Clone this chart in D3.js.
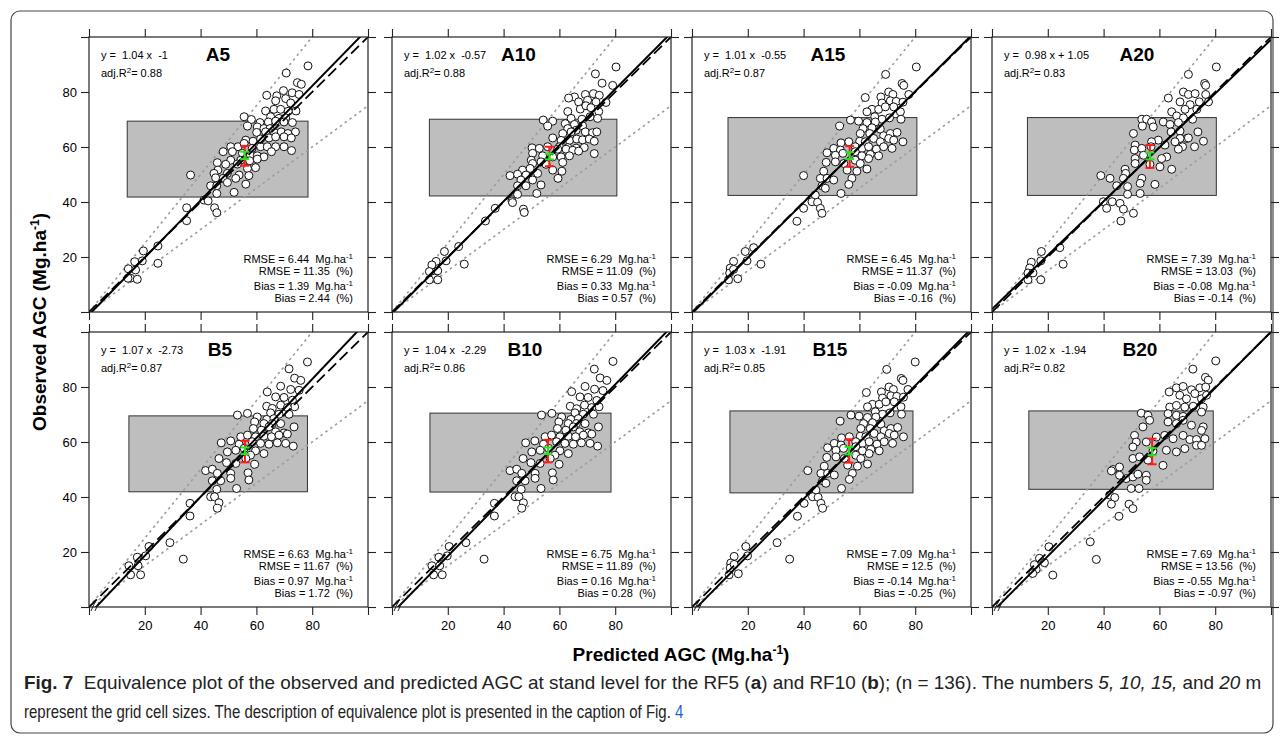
<!DOCTYPE html>
<html>
<head>
<meta charset="utf-8">
<script src="https://cdn.jsdelivr.net/npm/d3@7"></script>
<style>
body { margin: 0; background: #fff; }
text { font-family: "Liberation Sans", Arial, sans-serif; }
</style>
</head>
<body>
<script>
var width = 1284, height = 738;

// panel texts
var panelNames = ["A5", "A10", "A15", "A20", "B5", "B10", "B15", "B20"];
var eqText = ["y =  1.04 x  -1", "y =  1.02 x  -0.57", "y =  1.01 x  -0.55", "y =  0.98 x + 1.05",
              "y =  1.07 x  -2.73", "y =  1.04 x  -2.29", "y =  1.03 x  -1.91", "y =  1.02 x  -1.94"];
var slope = [1.04, 1.02, 1.01, 0.98, 1.07, 1.04, 1.03, 1.02];
var intercept = [-1, -0.57, -0.55, 1.05, -2.73, -2.29, -1.91, -1.94];
var adjR2 = ["0.88", "0.88", "0.87", "0.83", "0.87", "0.86", "0.85", "0.82"];
var rmse = ["6.44", "6.29", "6.45", "7.39", "6.63", "6.75", "7.09", "7.69"];
var rmsePct = ["11.35", "11.09", "11.37", "13.03", "11.67", "11.89", "12.5", "13.56"];
var bias = ["1.39", "0.33", "-0.09", "-0.08", "0.97", "0.16", "-0.14", "-0.55"];
var biasPct = ["2.44", "0.57", "-0.16", "-0.14", "1.72", "0.28", "-0.25", "-0.97"];

// equivalence region [xmin, xmax, ymin, ymax]
var eqRegion = [[13.7, 78.5, 41.8, 69.4], [13.4, 80.6, 42.2, 70.1], [12.9, 80.6, 42.4, 70.7], [12.7, 80.4, 42.4, 70.7],
                [14.3, 78.3, 41.9, 69.5], [13.6, 78.5, 41.8, 70.5], [13.6, 79.2, 41.5, 71.3], [13.2, 79.3, 42.8, 71.3]];
// mean bars [x, red lo, red hi, green lo, green hi]
var meanBars = [[55.8, 53.2, 60.4, 55.6, 58.3], [56.4, 53.0, 60.1, 55.5, 57.6], [56.5, 52.8, 60.3, 55.6, 58.1], [56.6, 52.4, 60.7, 55.5, 58.0],
                [55.9, 52.6, 60.4, 55.6, 58.0], [55.9, 52.6, 60.8, 55.6, 58.0], [56.3, 52.5, 61.0, 55.5, 58.2], [57.4, 51.9, 61.2, 55.2, 57.8]];

var tickValues = [0, 20, 40, 60, 80, 100];
var tickLabels = [20, 40, 60, 80];

// observed (y) vs predicted (x)
var ptsA5 = [[78.5,89.5],[70.7,86.9],[74.7,83.4],[76.1,82.8],[63.7,78.8],[67.3,78.6],[69.7,80.5],[72.8,79.7],[75.3,79.1],[66.9,76.8],[70.5,77.6],[72.3,76.0],[74.2,73.1],[63.3,73.1],[66.3,73.7],[68.7,73.7],[71.4,73.0],[65.1,71.0],[68.1,70.4],[70.5,70.6],[55.6,71.0],[58.2,70.0],[61.3,68.9],[64.3,69.1],[66.9,69.4],[69.9,69.1],[72.9,68.9],[56.8,67.6],[60.3,67.3],[62.7,66.7],[64.9,66.7],[60.1,65.3],[63.3,65.5],[66.5,65.2],[68.9,65.5],[74.0,65.5],[71.3,64.9],[56.2,62.5],[58.8,62.1],[61.5,62.9],[64.5,63.3],[66.9,63.7],[69.9,63.7],[72.5,63.3],[50.8,60.1],[53.4,60.1],[55.6,61.3],[58.5,59.5],[61.5,60.1],[63.9,60.1],[66.9,60.1],[69.9,60.1],[72.6,58.7],[48.1,58.3],[51.4,58.3],[55.0,57.7],[57.9,57.0],[60.3,56.8],[62.7,56.4],[65.4,58.3],[50.8,55.2],[54.4,55.2],[57.6,55.0],[60.3,55.6],[46.0,54.3],[49.0,53.7],[53.2,53.8],[56.8,52.2],[59.7,52.5],[46.2,51.6],[36.4,49.8],[44.8,50.4],[49.6,50.4],[53.8,49.8],[57.3,49.6],[45.4,48.8],[48.1,48.6],[49.6,47.1],[52.6,48.6],[56.2,46.5],[43.6,45.9],[45.8,45.9],[52.0,43.5],[45.8,43.1],[41.2,40.7],[42.7,40.4],[45.0,37.9],[45.8,36.1],[35.0,37.9],[35.0,33.2],[24.7,24.0],[19.5,22.2],[16.4,18.3],[19.1,18.6],[24.7,17.7],[14.1,15.7],[16.7,15.3],[14.9,12.3],[17.3,11.9],[14.0,12.3]];

var ptsA10 = [[80.3,89.1],[72.9,86.6],[75.3,83.2],[79.1,82.4],[65.4,78.2],[63.3,77.8],[69.3,79.1],[72.2,79.4],[74.3,78.8],[76.7,76.2],[66.9,76.4],[70.1,77.0],[73.1,76.4],[63.0,72.9],[67.5,73.8],[69.5,75.0],[71.3,74.3],[74.1,72.9],[64.2,70.4],[68.1,70.1],[71.0,71.0],[73.7,70.4],[54.2,69.8],[57.6,69.4],[55.8,67.6],[62.1,68.5],[65.4,68.2],[68.3,67.7],[63.0,66.7],[66.0,66.1],[61.2,64.9],[64.2,65.5],[69.3,65.5],[71.9,65.2],[73.4,65.5],[57.6,63.3],[60.6,62.4],[63.6,62.4],[66.2,62.9],[68.3,62.6],[70.7,62.9],[72.5,62.1],[60.0,60.1],[63.0,59.8],[66.0,59.6],[68.9,59.8],[72.5,57.6],[50.2,59.7],[52.8,59.5],[55.8,60.1],[59.4,59.2],[62.4,59.2],[64.8,58.8],[66.9,58.5],[50.4,57.7],[54.0,56.8],[57.6,56.4],[60.6,56.4],[63.6,56.8],[49.9,55.2],[53.4,54.6],[50.4,54.0],[55.2,53.7],[61.2,54.4],[46.8,51.6],[49.5,52.2],[52.2,50.4],[57.6,51.6],[60.9,51.2],[42.3,49.6],[45.0,50.1],[48.0,49.8],[46.2,48.0],[50.4,48.0],[59.5,48.6],[45.0,45.9],[48.0,45.9],[53.4,46.2],[45.0,42.8],[51.9,43.1],[43.0,40.4],[43.2,39.8],[47.1,37.4],[47.4,36.2],[37.0,37.7],[33.5,33.1],[23.9,23.8],[18.8,22.0],[15.8,18.4],[19.4,18.6],[25.9,17.4],[14.3,17.1],[13.4,14.7],[16.4,15.0],[15.2,12.3],[13.4,11.7],[16.4,11.7]];

var ptsA15 = [[80.4,89.1],[69.4,86.4],[75.3,83.1],[75.9,82.4],[62.1,78.0],[67.7,78.2],[70.5,80.0],[72.0,79.1],[68.1,76.0],[71.1,76.8],[73.2,76.6],[75.6,76.3],[77.7,79.1],[64.5,73.7],[62.7,72.8],[66.9,73.7],[69.3,74.6],[72.3,74.6],[74.7,72.8],[65.5,71.0],[68.1,70.1],[70.8,70.6],[74.9,70.1],[56.8,69.8],[59.7,69.4],[62.7,68.9],[65.7,69.1],[52.9,67.6],[61.3,66.7],[64.5,67.0],[67.5,66.5],[60.3,64.9],[63.7,64.9],[68.7,64.1],[71.1,64.9],[73.5,65.3],[75.6,61.9],[53.4,61.5],[56.2,61.9],[60.1,62.1],[62.1,61.9],[65.1,63.1],[67.5,61.9],[70.5,63.1],[72.3,62.5],[50.8,59.5],[53.2,58.9],[58.5,60.1],[60.9,59.5],[63.3,60.1],[66.1,59.2],[68.7,60.1],[71.7,59.5],[48.4,57.9],[51.4,57.0],[54.1,57.7],[58.5,58.3],[60.9,56.8],[63.9,57.3],[66.9,56.8],[48.1,54.4],[51.4,54.6],[54.4,54.0],[58.5,55.2],[60.3,54.0],[63.3,55.8],[55.6,51.6],[59.1,51.2],[62.7,52.0],[47.2,51.2],[46.0,48.6],[48.4,48.6],[40.0,49.6],[50.8,48.0],[57.3,48.6],[46.6,45.9],[56.2,46.4],[47.8,45.0],[53.4,43.1],[44.2,42.5],[43.0,40.1],[45.0,39.9],[46.0,37.7],[46.6,35.9],[40.0,37.7],[37.6,33.0],[22.1,23.4],[19.1,22.0],[14.9,18.4],[19.7,18.6],[24.7,17.4],[13.7,16.0],[13.5,14.2],[16.4,12.1],[13.1,11.7],[14.9,15.5]];

var ptsA20 = [[80.4,89.1],[70.4,86.4],[76.2,83.1],[76.6,82.4],[63.2,77.8],[68.6,80.0],[70.4,79.1],[72.8,79.4],[67.4,76.4],[71.0,75.4],[74.3,76.4],[76.6,79.1],[77.6,76.4],[64.4,72.8],[69.2,73.7],[66.2,71.3],[68.6,70.6],[71.9,70.1],[73.4,73.7],[53.7,70.1],[55.4,70.1],[57.2,69.1],[53.9,67.6],[57.8,67.3],[61.4,69.1],[63.8,68.2],[66.8,68.9],[64.2,65.5],[67.4,65.8],[69.8,63.1],[73.8,65.5],[75.8,62.1],[50.7,64.9],[67.4,63.1],[70.4,63.3],[72.6,60.1],[68.3,60.1],[66.8,59.2],[65.6,61.9],[62.0,60.7],[59.6,62.5],[57.2,61.9],[57.0,60.1],[51.3,60.7],[51.0,58.9],[53.7,59.5],[54.3,57.0],[51.3,55.8],[51.3,54.0],[62.6,56.4],[60.8,55.8],[64.4,51.9],[60.2,52.8],[56.6,53.7],[53.7,48.6],[47.7,51.9],[47.9,50.4],[47.1,48.6],[39.0,49.6],[42.3,48.6],[44.7,45.9],[48.6,45.6],[53.1,46.8],[58.4,46.4],[48.6,42.8],[53.1,43.1],[39.9,40.1],[43.1,40.1],[45.9,39.5],[41.1,37.7],[47.1,37.4],[50.7,35.9],[46.2,33.1],[24.3,23.4],[17.7,22.0],[14.1,18.1],[17.5,18.6],[25.5,17.4],[13.5,16.0],[12.9,14.2],[14.7,14.2],[17.5,11.7],[12.9,11.7]];

var ptsB5 = [[78.3,89.1],[71.7,86.6],[73.7,83.2],[75.9,82.4],[63.9,78.2],[68.7,80.3],[72.3,79.1],[75.3,78.8],[66.9,76.4],[69.9,76.2],[72.9,75.2],[73.7,72.8],[63.7,73.0],[65.7,72.2],[68.7,73.4],[71.1,72.5],[65.1,70.6],[68.1,70.1],[71.7,70.1],[53.2,69.8],[56.8,70.4],[60.3,69.1],[63.7,68.2],[66.3,68.5],[59.4,67.3],[62.7,66.7],[65.7,66.7],[68.7,66.7],[58.9,64.9],[61.8,64.3],[64.5,65.5],[66.9,63.7],[69.9,63.3],[73.5,65.5],[54.4,61.9],[56.8,62.5],[59.7,61.9],[62.7,62.1],[65.4,61.9],[68.1,62.5],[71.1,62.9],[47.4,59.7],[50.8,60.4],[53.8,59.2],[58.5,60.1],[61.5,59.5],[64.5,59.2],[67.5,59.7],[70.5,59.5],[73.2,58.5],[49.6,56.4],[52.6,57.0],[55.6,57.7],[59.7,56.8],[62.7,55.8],[57.9,55.2],[46.6,54.0],[49.3,52.5],[52.6,52.2],[56.2,54.0],[59.4,51.9],[41.8,49.6],[44.2,50.1],[46.0,48.6],[50.8,48.6],[44.2,45.9],[47.2,45.9],[50.8,46.8],[57.0,48.8],[57.3,46.2],[45.8,42.8],[52.9,43.1],[43.6,40.1],[45.0,40.1],[46.6,37.9],[46.0,35.9],[36.2,37.7],[36.2,33.1],[29.0,23.4],[21.5,22.0],[17.3,18.1],[20.3,18.6],[33.8,17.4],[14.3,15.0],[17.6,15.0],[14.9,11.7],[18.5,11.7]];

var ptsB10 = [[79.2,89.3],[72.5,86.5],[74.6,83.3],[77.0,82.4],[64.4,78.3],[69.2,80.2],[72.6,79.2],[75.6,78.7],[67.4,76.4],[70.3,76.2],[73.4,75.1],[74.2,72.8],[63.9,73.0],[66.2,72.1],[69.0,73.4],[71.6,72.5],[65.6,70.6],[68.6,70.1],[72.2,70.1],[53.6,69.8],[57.3,70.4],[60.8,69.1],[64.1,68.2],[66.8,68.5],[59.8,67.3],[63.2,66.7],[66.1,66.7],[69.2,66.7],[59.3,64.9],[62.3,64.3],[65.0,65.5],[67.3,63.7],[70.4,63.3],[74.0,65.5],[54.9,61.9],[57.2,62.5],[60.2,61.9],[63.2,62.1],[65.8,61.9],[68.6,62.5],[71.6,62.9],[47.9,59.7],[51.2,60.4],[54.3,59.2],[59.0,60.1],[62.0,59.5],[65.0,59.2],[67.9,59.7],[71.0,59.5],[73.7,58.5],[50.1,56.4],[53.1,57.0],[56.1,57.7],[60.2,56.8],[63.2,55.8],[58.4,55.2],[47.0,54.0],[49.8,52.5],[53.1,52.2],[56.7,54.0],[59.9,51.9],[42.3,49.6],[44.7,50.1],[46.5,48.6],[51.3,48.6],[44.7,45.9],[47.7,45.9],[51.3,46.8],[57.5,48.8],[57.8,46.2],[46.3,42.8],[53.4,43.1],[44.1,40.1],[45.5,40.1],[47.1,37.9],[46.5,35.9],[36.7,37.7],[36.7,33.1],[26.5,23.4],[20.5,22.0],[16.8,18.1],[19.8,18.6],[33.0,17.4],[14.3,15.0],[17.1,15.0],[14.9,11.7],[18.0,11.7]];

var ptsB15 = [[80.0,89.1],[69.8,86.4],[75.0,83.1],[75.6,82.4],[62.5,78.0],[67.9,78.2],[70.6,80.0],[72.2,79.1],[68.3,76.0],[71.3,76.8],[73.4,76.6],[75.8,76.3],[77.4,79.1],[64.7,73.7],[62.9,72.8],[67.1,73.7],[69.5,74.6],[72.5,74.6],[74.9,72.8],[65.7,71.0],[68.3,70.1],[71.0,70.6],[75.1,70.1],[57.0,69.8],[59.9,69.4],[62.9,68.9],[65.9,69.1],[53.1,67.6],[61.5,66.7],[64.7,67.0],[67.7,66.5],[60.5,64.9],[63.9,64.9],[68.9,64.1],[71.3,64.9],[73.7,65.3],[75.8,61.9],[53.6,61.5],[56.4,61.9],[60.3,62.1],[62.3,61.9],[65.3,63.1],[67.7,61.9],[70.7,63.1],[72.5,62.5],[51.0,59.5],[53.4,58.9],[58.7,60.1],[61.1,59.5],[63.5,60.1],[66.3,59.2],[68.9,60.1],[71.9,59.5],[48.6,57.9],[51.6,57.0],[54.3,57.7],[58.7,58.3],[61.1,56.8],[64.1,57.3],[67.1,56.8],[48.3,54.4],[51.6,54.6],[54.6,54.0],[58.7,55.2],[60.5,54.0],[63.5,55.8],[55.8,51.6],[59.3,51.2],[62.9,52.0],[47.4,51.2],[46.2,48.6],[48.6,48.6],[41.5,49.6],[51.0,48.0],[57.5,48.6],[46.8,45.9],[56.4,46.4],[48.0,45.0],[53.6,43.1],[44.4,42.5],[43.2,40.1],[45.2,39.9],[46.2,37.7],[46.8,35.9],[40.2,37.7],[37.8,33.0],[30.5,23.4],[19.3,22.0],[15.1,18.4],[19.9,18.6],[35.0,17.4],[13.9,16.0],[13.7,14.2],[16.6,12.1],[13.3,11.7],[15.1,15.5]];

var ptsB20 = [[80.2,89.5],[72.0,86.5],[76.5,83.5],[77.5,82.5],[63.5,78.2],[66.1,79.7],[68.5,80.2],[71.5,79.0],[74.5,79.7],[76.6,80.0],[72.7,77.6],[67.3,77.0],[69.7,75.7],[75.1,75.7],[76.9,77.0],[63.7,72.7],[66.1,73.3],[69.1,72.7],[72.1,73.0],[75.7,72.7],[53.5,70.5],[55.9,69.7],[56.5,67.9],[63.1,70.3],[66.1,69.7],[68.5,69.3],[63.1,67.3],[66.1,66.7],[68.5,67.9],[71.5,66.1],[75.1,70.9],[75.7,65.5],[54.1,65.5],[51.1,62.4],[51.7,60.0],[55.3,60.0],[58.9,61.8],[61.9,62.4],[64.9,61.2],[68.5,62.4],[70.9,60.9],[73.3,60.9],[76.3,61.2],[50.5,58.2],[57.7,56.7],[62.5,57.0],[66.1,56.4],[69.1,57.6],[73.3,58.8],[75.1,58.8],[75.1,64.2],[50.5,54.0],[52.9,54.6],[55.9,53.4],[61.3,51.5],[43.4,50.0],[45.7,50.9],[42.8,49.5],[45.7,47.9],[48.1,46.7],[50.5,47.3],[52.3,48.3],[55.3,47.9],[55.3,46.1],[49.9,43.1],[52.7,43.1],[42.2,40.7],[44.0,39.8],[42.8,37.4],[49.1,37.4],[50.5,35.8],[45.5,33.0],[35.2,23.7],[37.4,17.3],[20.4,21.9],[17.0,17.7],[18.8,16.1],[15.8,13.7],[14.6,12.2],[21.8,11.6],[15.2,15.4]];

var panelPoints = [ptsA5, ptsA10, ptsA15, ptsA20, ptsB5, ptsB10, ptsB15, ptsB20];

// layout
var colLeft = [89, 392, 692, 992], rowTop = [37, 332];
var pw = 279, ph = 275;
var titleCx = [129, 126.5, 136, 145, 131, 133, 138, 148];

// keep the wide spacing of the R labels
function pre(s) { return s.replace(/  /g, " \u00a0"); }

var svg = d3.select("body").append("svg")
    .attr("width", width)
    .attr("height", height);

// outer frame
svg.append("rect")
    .attr("x", 11).attr("y", 11)
    .attr("width", 1262).attr("height", 722)
    .attr("rx", 9)
    .attr("fill", "none")
    .attr("stroke", "#444")
    .attr("stroke-width", 1.2);

var defs = svg.append("defs");

panelNames.forEach(function(name, i) {
  var col = i % 4, row = Math.floor(i / 4);
  var x0 = colLeft[col], y0 = rowTop[row];
  var x = d3.scaleLinear().domain([0, 100]).range([x0, x0 + pw]);
  var y = d3.scaleLinear().domain([0, 100]).range([y0 + ph, y0]);
  var g = svg.append("g");

  defs.append("clipPath").attr("id", "clip" + i)
    .append("rect").attr("x", x0).attr("y", y0).attr("width", pw).attr("height", ph);

  var r = eqRegion[i];
  g.append("rect")
      .attr("x", x(r[0])).attr("y", y(r[3]))
      .attr("width", x(r[1]) - x(r[0])).attr("height", y(r[2]) - y(r[3]))
      .attr("fill", "#bebebe")
      .attr("stroke", "#333")
      .attr("stroke-width", 1);

  var lines = g.append("g").attr("clip-path", "url(#clip" + i + ")");
  // +-25% lines
  [1.25, 0.75].forEach(function(k) {
    lines.append("line")
        .attr("x1", x(0)).attr("y1", y(0))
        .attr("x2", x(100)).attr("y2", y(100 * k))
        .attr("stroke", "#9c9c9c")
        .attr("stroke-width", 1.6)
        .attr("stroke-dasharray", "2.5,3.5");
  });

  var pts = panelPoints[i];
  g.append("g").selectAll("circle")
    .data(pts)
    .enter().append("circle")
      .attr("cx", function(d) { return x(d[0]); })
      .attr("cy", function(d) { return y(d[1]); })
      .attr("r", 4)
      .attr("fill", "#fff")
      .attr("stroke", "#111")
      .attr("stroke-width", 1);

  var top = g.append("g").attr("clip-path", "url(#clip" + i + ")");
  // 1:1 line
  top.append("line")
      .attr("x1", x(0)).attr("y1", y(0))
      .attr("x2", x(100)).attr("y2", y(100))
      .attr("stroke", "#000")
      .attr("stroke-width", 1.8)
      .attr("stroke-dasharray", "11,5");
  // fitted line
  top.append("line")
      .attr("x1", x(0)).attr("y1", y(intercept[i]))
      .attr("x2", x(100)).attr("y2", y(slope[i] * 100 + intercept[i]))
      .attr("stroke", "#000")
      .attr("stroke-width", 2);

  // mean bars
  var mb = meanBars[i];
  [[mb[1], mb[2], "#ff1a1a"], [mb[3], mb[4], "#1ee81e"]].forEach(function(b) {
    var bar = g.append("g").attr("stroke", b[2]).attr("stroke-width", 2);
    bar.append("line").attr("x1", x(mb[0])).attr("x2", x(mb[0])).attr("y1", y(b[0])).attr("y2", y(b[1]));
    bar.append("line").attr("x1", x(mb[0]) - 4.5).attr("x2", x(mb[0]) + 4.5).attr("y1", y(b[0])).attr("y2", y(b[0]));
    bar.append("line").attr("x1", x(mb[0]) - 4.5).attr("x2", x(mb[0]) + 4.5).attr("y1", y(b[1])).attr("y2", y(b[1]));
  });

  // frame
  g.append("rect")
      .attr("x", x0).attr("y", y0).attr("width", pw).attr("height", ph)
      .attr("fill", "none").attr("stroke", "#222").attr("stroke-width", 1.2);

  // axes (ticks all round, labels only on outer sides)
  function styleAxis(a) {
    a.select(".domain").remove();
    a.selectAll("line").attr("stroke", "#222").attr("stroke-width", 1.1);
    a.selectAll("text").attr("font-size", 13).attr("fill", "#000")
      .attr("font-family", "Liberation Sans, Arial, sans-serif");
  }
  function lab(show) {
    return function(d) { return show && tickLabels.indexOf(d) >= 0 ? d : ""; };
  }
  g.append("g").attr("transform", "translate(0," + y0 + ")")
    .call(d3.axisTop(x).tickValues(tickValues).tickSize(8).tickFormat(""))
    .call(styleAxis);
  g.append("g").attr("transform", "translate(0," + (y0 + ph) + ")")
    .call(d3.axisBottom(x).tickValues(tickValues).tickSize(8).tickPadding(6).tickFormat(lab(row === 1)))
    .call(styleAxis);
  g.append("g").attr("transform", "translate(" + x0 + ",0)")
    .call(d3.axisLeft(y).tickValues(tickValues).tickSize(8).tickPadding(4).tickFormat(lab(col === 0)))
    .call(styleAxis);
  g.append("g").attr("transform", "translate(" + (x0 + pw) + ",0)")
    .call(d3.axisRight(y).tickValues(tickValues).tickSize(8).tickFormat(""))
    .call(styleAxis);

  // axis break marks on the bottom axis
  if (row === 1) {
    [0, 4].forEach(function(dx) {
      g.append("line")
        .attr("x1", x0 + 2 + dx).attr("y1", y0 + ph + 4)
        .attr("x2", x0 + 6 + dx).attr("y2", y0 + ph - 5)
        .attr("stroke", "#222").attr("stroke-width", 1);
    });
  }

  // texts
  g.append("text")
      .attr("x", x0 + 12).attr("y", y0 + 22)
      .attr("font-size", 11).attr("fill", "#000")
      .text(pre(eqText[i]));
  var r2 = g.append("text")
      .attr("x", x0 + 12).attr("y", y0 + 40)
      .attr("font-size", 11).attr("fill", "#000");
  r2.append("tspan").text("adj.R");
  r2.append("tspan").attr("dy", -4).attr("font-size", 8).text("2");
  r2.append("tspan").attr("dy", 4).text("= " + adjR2[i]);

  g.append("text")
      .attr("x", x0 + titleCx[i]).attr("y", y0 + 24)
      .attr("text-anchor", "middle")
      .attr("font-size", 19).attr("font-weight", "bold").attr("fill", "#000")
      .text(name);

  var statLines = [
    ["RMSE = " + rmse[i] + "  Mg.ha", true],
    ["RMSE = " + rmsePct[i] + "  (%)", false],
    ["Bias = " + bias[i] + "  Mg.ha", true],
    ["Bias = " + biasPct[i] + "  (%)", false]
  ];
  var statY = [226, 238, 253, 265];
  statLines.forEach(function(s, k) {
    var t = g.append("text")
        .attr("x", x0 + 264).attr("y", y0 + statY[k])
        .attr("text-anchor", "end")
        .attr("font-size", 11).attr("fill", "#000");
    t.append("tspan").text(pre(s[0]));
    if (s[1]) t.append("tspan").attr("dy", -4).attr("font-size", 8).text("-1");
  });
});

// axis titles
var yt = svg.append("text")
    .attr("transform", "translate(46,322) rotate(-90)")
    .attr("text-anchor", "middle")
    .attr("font-size", 19).attr("font-weight", "bold").attr("fill", "#000");
yt.append("tspan").text("Observed AGC (Mg.ha");
yt.append("tspan").attr("dy", -7).attr("font-size", 12).text("-1");
yt.append("tspan").attr("dy", 7).text(")");

var xt = svg.append("text")
    .attr("x", 681).attr("y", 661)
    .attr("text-anchor", "middle")
    .attr("font-size", 19).attr("font-weight", "bold").attr("fill", "#000");
xt.append("tspan").text("Predicted AGC (Mg.ha");
xt.append("tspan").attr("dy", -7).attr("font-size", 12).text("-1");
xt.append("tspan").attr("dy", 7).text(")");

// caption, squeezed to the condensed width of the original
function fitLine(t, x, y, w) {
  var n = t.node().getComputedTextLength();
  t.attr("transform", "translate(" + x + "," + y + ") scale(" + (w / n) + ",1)");
}
var c1 = svg.append("text")
    .attr("font-size", 17.5).attr("fill", "#222");
c1.append("tspan").attr("font-weight", "bold").text("Fig. 7");
c1.append("tspan").text(" \u00a0Equivalence plot of the observed and predicted AGC at stand level for the RF5 (");
c1.append("tspan").attr("font-weight", "bold").text("a");
c1.append("tspan").text(") and RF10 (");
c1.append("tspan").attr("font-weight", "bold").text("b");
c1.append("tspan").text("); (n = 136). The numbers ");
c1.append("tspan").attr("font-style", "italic").text("5, 10, 15,");
c1.append("tspan").text(" and ");
c1.append("tspan").attr("font-style", "italic").text("20");
c1.append("tspan").text(" m");
fitLine(c1, 24, 689, 1238);

var c2 = svg.append("text")
    .attr("font-size", 17.5).attr("fill", "#222");
c2.append("tspan").text("represent the grid cell sizes. The description of equivalence plot is presented in the caption of Fig. ");
c2.append("tspan").attr("fill", "#1f5fd6").text("4");
fitLine(c2, 24, 718, 660);
</script>
</body>
</html>
